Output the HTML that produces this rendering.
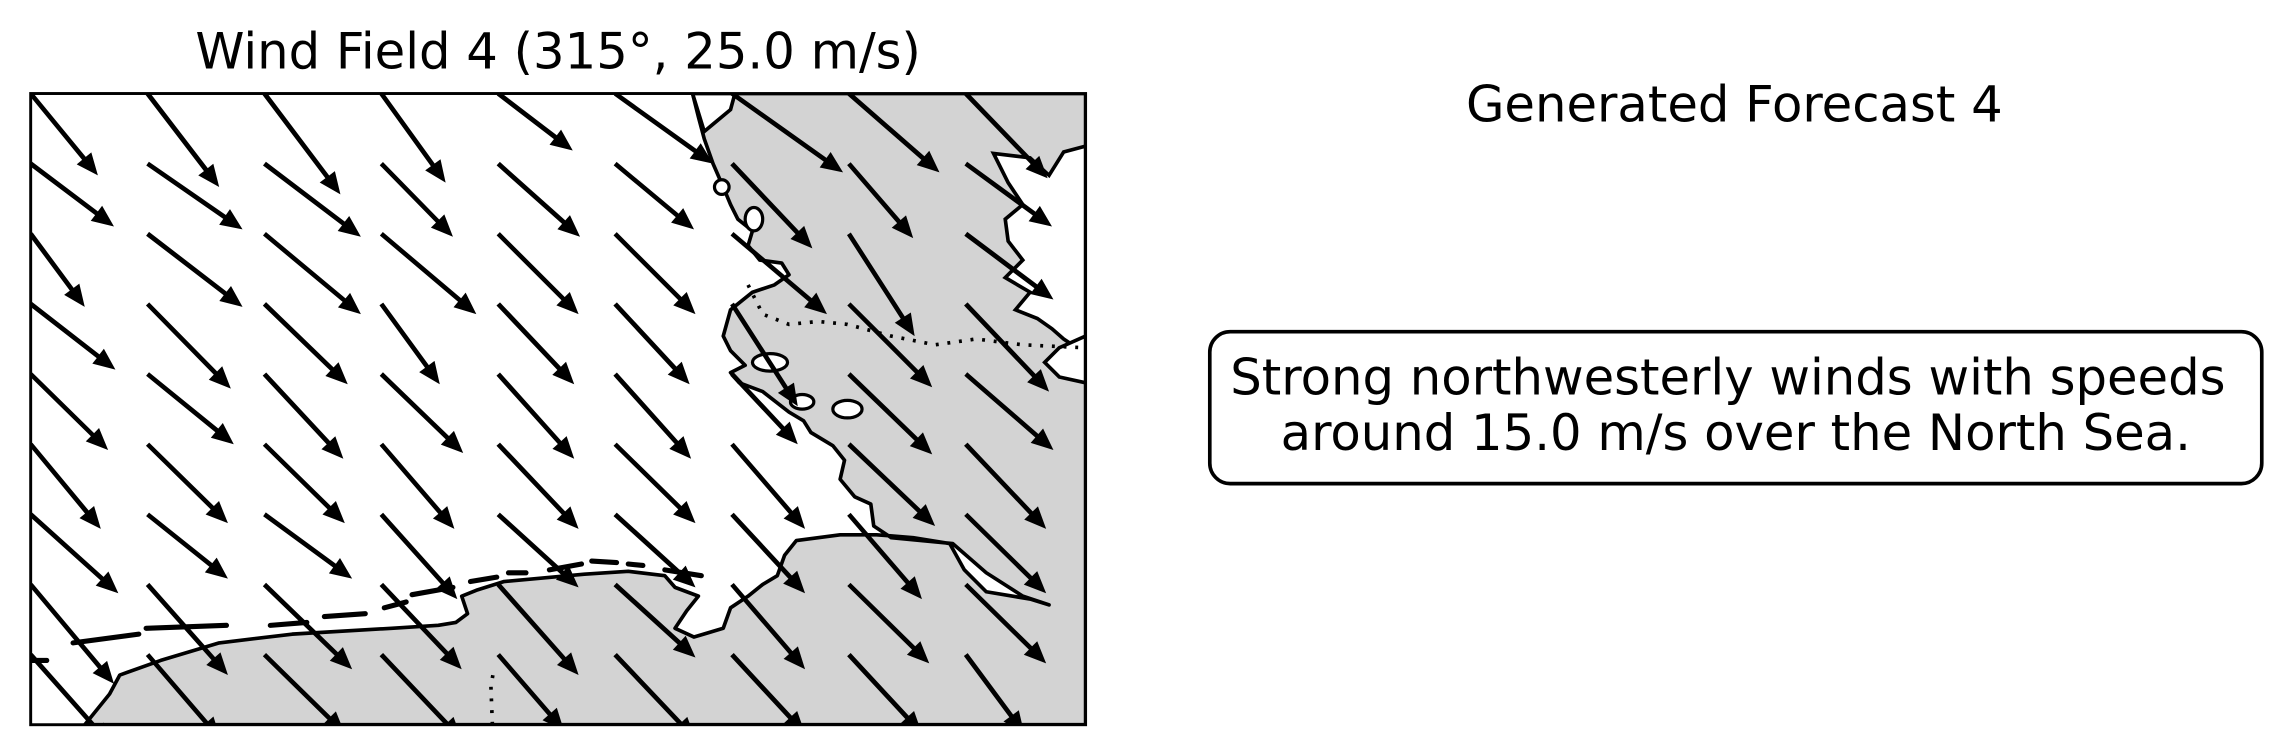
<!DOCTYPE html>
<html><head><meta charset="utf-8"><style>
html,body{margin:0;padding:0;background:#fff;}
svg{display:block;font-family:"DejaVu Sans","Liberation Sans",sans-serif;}
</style></head><body>
<svg id="fig" width="2291" height="756" viewBox="0 0 1568 517.4" xmlns="http://www.w3.org/2000/svg">
<rect width="1568" height="517.4" fill="#fff"/>
<text x="382" y="47" font-size="34" text-anchor="middle">Wind Field 4 (315°, 25.0 m/s)</text>
<defs><clipPath id="mapclip"><rect x="21" y="64" width="722" height="432"/></clipPath></defs>
<g clip-path="url(#mapclip)">
<rect x="21" y="64" width="722" height="432" fill="#fff"/>
<path fill="#d3d3d3" stroke="#000" stroke-width="2.5" stroke-linejoin="round"
d="M503,64 L743,64 L743,496 L58,496 L75,475 L82,462 L110,452 L150,440 L200,434 L268,430 L300,428 L312,426 L320,420 L316,408 L326,404 L345,398 L400,393 L430,391 L455,394 L462,402 L478,408 L470,418 L462,430 L475,436 L495,430 L500,416 L512,408 L522,400 L532,394 L537,380 L545,370 L575,366 L600,366 L625,368 L650,372 L660,390 L675,405 L705,410 L718,414 L700,408 L675,392 L652,372 L610,368 L598,360 L596,345 L585,340 L575,328 L578,315 L570,305 L555,296 L550,288 L540,282 L522,268 L506,262 L500,255 L510,250 L500,240 L495,230 L500,212 L515,200 L530,195 L540,188 L535,180 L520,178 L512,168 L515,158 L505,150 L500,140 L495,128 L488,112 L482,95 L478,80 L474,64 Z"/>
<path fill="#fff" stroke="#000" stroke-width="2.5"
d="M743,100 L728,104 L718,120 L705,108 L680,105 L690,125 L700,140 L688,150 L690,165 L700,178 L688,190 L705,200 L695,212 L710,218 L720,225 L728,232 L740,240 L743,245 Z"/>
<path fill="#fff" stroke="#000" stroke-width="2.5"
d="M743,230 L725,238 L715,248 L725,258 L743,262 Z"/>
<path fill="#fff" stroke="#000" stroke-width="2.5" d="M474,64 L503,64 L500,75 L488,85 L482,90 Z"/>
<g fill="#fff" stroke="#000" stroke-width="2.2">
<ellipse cx="527" cy="248" rx="12" ry="6"/><ellipse cx="549" cy="275" rx="8" ry="5"/><ellipse cx="580" cy="280" rx="10" ry="6"/>
<ellipse cx="516" cy="150" rx="6" ry="8"/><ellipse cx="494" cy="128" rx="5" ry="5"/>
</g>
<g fill="none" stroke="#000" stroke-width="3.5" stroke-linecap="round">
<path d="M22,452 L32,452"/><path d="M50,440 L95,434"/><path d="M100,430 L155,428"/><path d="M185,428 L210,426"/>
<path d="M222,422 L250,420"/><path d="M263,416 L278,412"/><path d="M282,407 L310,402"/><path d="M322,398 L340,395"/>
<path d="M348,392 L360,392"/><path d="M376,390 L398,386"/><path d="M405,384 L422,385"/><path d="M430,386 L440,387"/><path d="M455,390 L480,394"/>
</g>
<g fill="none" stroke="#000" stroke-width="2.5" stroke-dasharray="2,6">
<path d="M337,496 L336,470 L338,458"/>
<path d="M512,195 L522,215 L540,222 L560,220 L580,222 L610,230 L640,236 L668,232 L700,236 L743,238"/>
</g>
<g id="arrows"></g>
</g>
<rect x="21" y="64" width="722" height="432" fill="none" stroke="#000" stroke-width="2"/>
<text x="1187" y="83" font-size="34" text-anchor="middle">Generated Forecast 4</text>
<rect x="828" y="227" width="720" height="104" rx="14" fill="#fff" stroke="#000" stroke-width="2.5"/>
<text font-size="34" text-anchor="middle">
<tspan x="1188" y="270">Strong northwesterly winds with speeds</tspan>
<tspan x="1188" y="308">around 15.0 m/s over the North Sea.</tspan>
</text>
</svg>
<script>
// grid of arrow tails (data coords -> display via axis functions)
const lonIdx = [0,1,2,3,4,5,6,7,8];
const latIdx = [0,1,2,3,4,5,6,7,8];
// u: eastward component, v: southward component (display units)
const uVals = [
[46,49,52,44,51,67,76,62,56],
[57,65,66,49,56,54,55,44,59],
[37,65,66,65,55,55,65,45,60],
[58,57,57,40,52,51,45,57,57],
[53,59,54,56,52,52,45,57,60],
[48,55,55,50,55,55,50,59,55],
[60,55,60,52,55,55,50,50,55],
[57,55,60,55,55,55,50,55,55],
[55,50,55,55,45,55,50,50,40]];
const vVals = [
[56,64,69,61,39,48,54,54,58],
[43,45,50,50,50,45,58,51,43],
[50,50,55,55,55,55,55,70,45],
[45,58,55,55,55,55,70,57,60],
[52,48,58,54,58,58,48,55,52],
[58,54,54,58,58,54,58,56,58],
[54,44,44,58,50,50,54,58,54],
[68,62,58,58,62,50,58,54,54],
[62,58,54,58,52,58,54,54,54]];
function xScale(i){return 21+i*80;}
function yScale(j){return 64+j*48;}
const g=document.getElementById('arrows');
const NS='http://www.w3.org/2000/svg';
for(let j=0;j<latIdx.length;j++){for(let i=0;i<lonIdx.length;i++){
 const x0=xScale(lonIdx[i]), y0=yScale(latIdx[j]);
 const dx=uVals[j][i], dy=vVals[j][i];
 const L=Math.hypot(dx,dy), ux=dx/L, uy=dy/L, px=-uy, py=ux;
 const hl=15, hw=6.5, sw=1.6;
 const bx=x0+dx-ux*hl, by=y0+dy-uy*hl;
 const pts=[[x0+px*sw,y0+py*sw],[bx+px*sw,by+py*sw],[bx+px*hw,by+py*hw],[x0+dx,y0+dy],[bx-px*hw,by-py*hw],[bx-px*sw,by-py*sw],[x0-px*sw,y0-py*sw]];
 const p=document.createElementNS(NS,'polygon');
 p.setAttribute('points',pts.map(q=>q[0].toFixed(1)+','+q[1].toFixed(1)).join(' '));
 p.setAttribute('fill','#000');
 
 
 g.appendChild(p);
}}
</script>
</body></html>
